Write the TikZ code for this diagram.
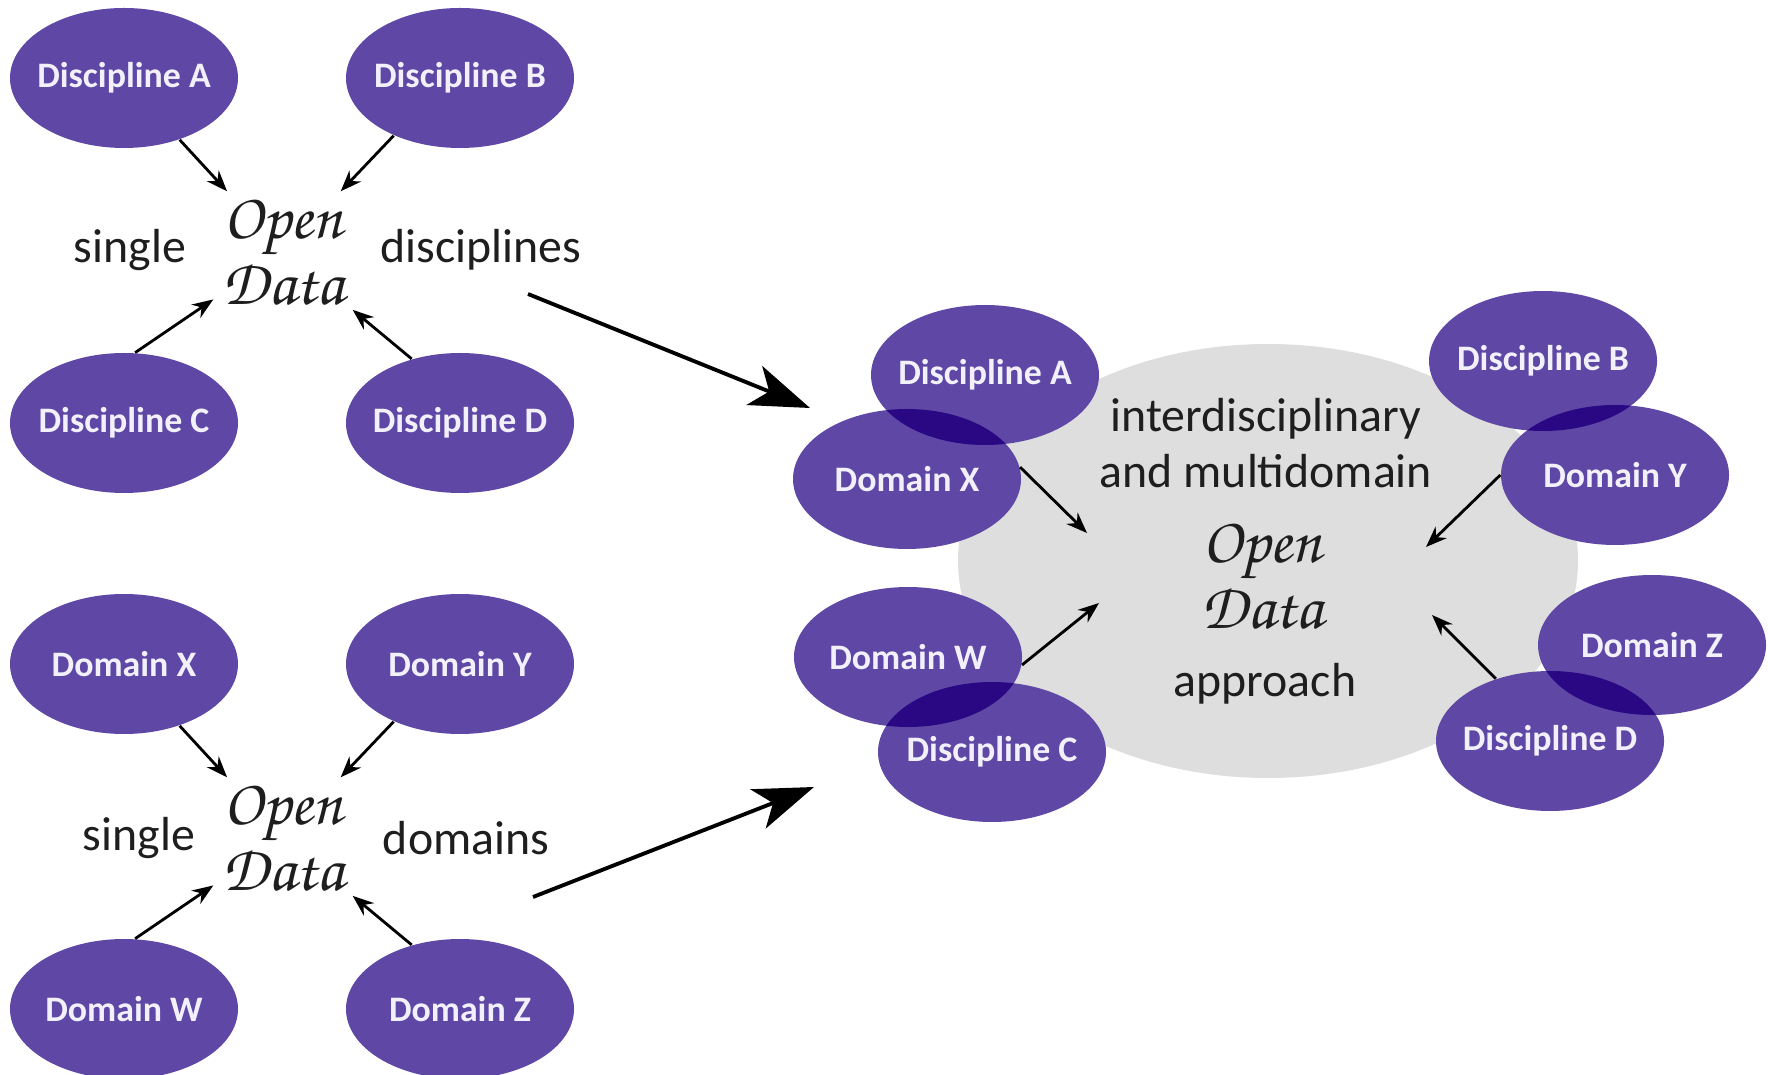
\documentclass[tikz,border=0pt]{standalone}
\usepackage[T1]{fontenc}
\usepackage{fontspec}
\setmainfont{Carlito}
\usetikzlibrary{shapes.geometric,arrows.meta}

\definecolor{ellpurple}{RGB}{94,71,165}
\definecolor{ovlpurple}{RGB}{42,8,132}
\definecolor{cloudgray}{RGB}{222,222,222}
\definecolor{inktext}{RGB}{30,30,30}
\definecolor{labelwhite}{RGB}{242,240,250}

\newcommand{\handfont}{\fontencoding{T1}\fontfamily{pzc}\fontseries{mb}\fontshape{it}\fontsize{18.5}{17}\selectfont}

\begin{document}
\begin{tikzpicture}[
    disc/.style={ellipse, fill=ellpurple, text=labelwhite,
      font=\bfseries\fontsize{10.2}{12}\selectfont,
      minimum width=2.28cm, minimum height=1.40cm, inner sep=-2mm},
    hand/.style={align=center, font=\handfont, text=inktext, inner sep=0pt,
      minimum width=1.38cm, minimum height=1.2cm},
    word/.style={font=\fontsize{13.6}{15.9}\selectfont, text=inktext, align=center},
    thin arrow/.style={-{Stealth[length=2.1mm,width=1.6mm]}, line width=0.8pt},
    big arrow/.style={-{Stealth[length=6mm,width=4.2mm,inset=1.6mm]}, line width=1.1pt}
  ]
    \useasboundingbox (0,0) rectangle (17.68,-10.75);

    \begin{scope}[shift={(2.90,-2.52)}]
        \node[disc] (discA) at (-1.66,1.74) {Discipline A};
        \node[disc] (discB) at (1.70,1.74) {Discipline B};
        \node[disc] (discC) at (-1.66,-1.71) {Discipline C};
        \node[disc] (discD) at (1.70,-1.71) {Discipline D};
        \node[hand] (openDisc) at (-0.07,0) {Open\\Data};
        \node[word] (singleDisc) at (-1.60,0.02) {single};
        \node[word] (wordDisc) at (1.91,0.02) {disciplines};

        \draw[thin arrow] (discA.-48) -- (openDisc);
        \draw[thin arrow] (discB.221) -- (openDisc);
        \draw[thin arrow] (discC.81) -- (openDisc);
        \draw[thin arrow] (discD.127) -- (openDisc);
    \end{scope}

    \begin{scope}[shift={(2.90,-8.38)}]
        \node[disc] (domX) at (-1.66,1.74) {Domain X};
        \node[disc] (domY) at (1.70,1.74) {Domain Y};
        \node[disc] (domW) at (-1.66,-1.71) {Domain W};
        \node[disc] (domZ) at (1.70,-1.71) {Domain Z};
        \node[hand] (openDom) at (-0.07,0) {Open\\Data};
        \node[word] (singleDom) at (-1.51,0) {single};
        \node[word] (wordDom) at (1.76,0) {domains};

        \draw[thin arrow] (domX.-48) -- (openDom);
        \draw[thin arrow] (domY.221) -- (openDom);
        \draw[thin arrow] (domW.81) -- (openDom);
        \draw[thin arrow] (domZ.127) -- (openDom);
    \end{scope}

    \node[ellipse, fill=cloudgray, minimum width=6.20cm, minimum height=4.34cm] (cloud) at (12.68,-5.61) {};

    \node[disc] (rdiscA) at (9.85,-3.75) {Discipline A};
    \node[disc] (rdomX) at (9.07,-4.79) {Domain X};
    \node[disc] (rdiscB) at (15.43,-3.61) {Discipline B};
    \node[disc] (rdomY) at (16.15,-4.75) {Domain Y};
    \node[disc] (rdomW) at (9.08,-6.57) {Domain W};
    \node[disc] (rdiscC) at (9.92,-7.52) {Discipline C};
    \node[disc] (rdomZ) at (16.52,-6.45) {Domain Z};
    \node[disc] (rdiscD) at (15.50,-7.41) {Discipline D};

    \foreach \first/\second in {rdiscA/rdomX, rdiscB/rdomY, rdomW/rdiscC, rdomZ/rdiscD} {
        \begin{scope}
            \clip (\first.center) ellipse [x radius=1.14cm, y radius=0.70cm];
            \fill[ovlpurple] (\second.center) ellipse [x radius=1.14cm, y radius=0.70cm];
        \end{scope}
    }

    \node[word] (interText) at (12.66,-4.43) {interdisciplinary\\and multidomain};
    \node[hand] (openAll) at (12.62,-5.76) {Open\\Data};
    \node[word] (approachText) at (12.65,-6.84) {approach};

    \coordinate (inX) at (10.87,-5.33);
    \coordinate (inY) at (14.26,-5.47);
    \coordinate (inW) at (10.99,-6.03);
    \coordinate (inD) at (14.32,-6.15);
    \draw[thin arrow] (rdomX.6) -- (inX);
    \draw[thin arrow] (rdomY.west) -- (inY);
    \draw[thin arrow] (rdomW.-4) -- (inW);
    \draw[thin arrow] (rdiscD.131) -- (inD);

    \coordinate (fromDisc) at (5.28,-2.94);
    \coordinate (toDisc) at (8.10,-4.08);
    \coordinate (fromDom) at (5.33,-8.97);
    \coordinate (toDom) at (8.14,-7.87);
    \draw[big arrow] (fromDisc) -- (toDisc);
    \draw[big arrow] (fromDom) -- (toDom);
\end{tikzpicture}
\end{document}
